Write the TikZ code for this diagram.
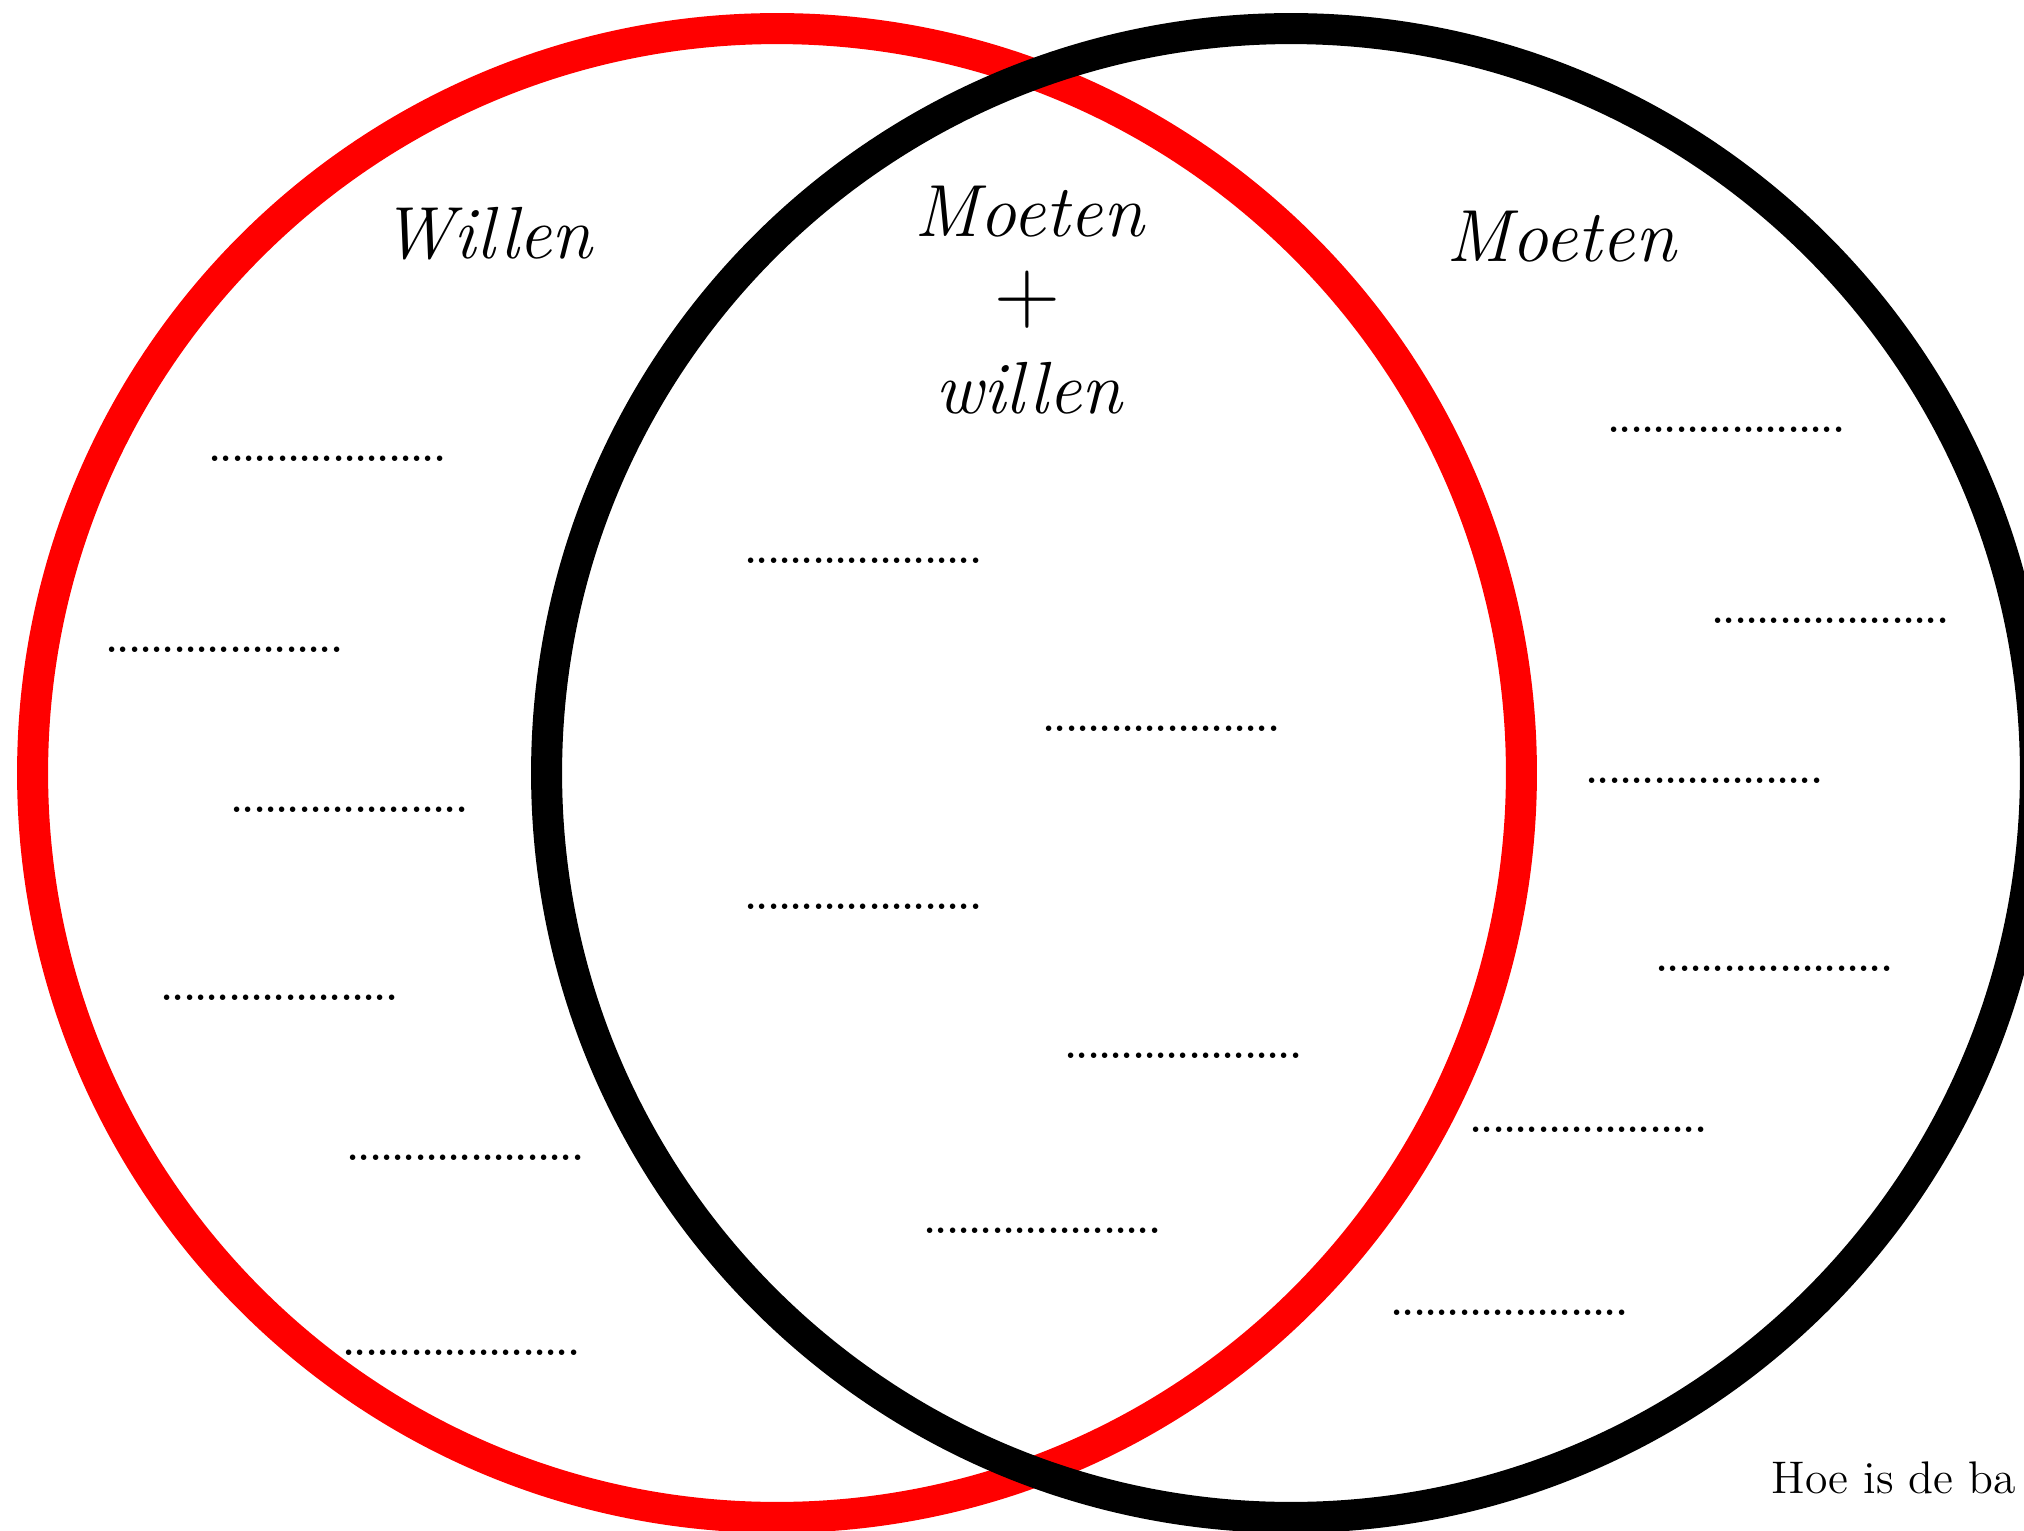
\documentclass[tikz,border=0pt]{standalone}
\usepackage{fontspec}
\usepackage{xcolor}
\usepackage{tikz}
\usetikzlibrary{positioning}

\newcommand{\blankline}{.....................}

\begin{document}
\begin{tikzpicture}[
  x=0.01cm, y=-0.01cm,
  ring/.style={draw=#1, line width=0.31cm},
  title/.style={font=\fontsize{21}{25}\selectfont\itshape, anchor=base, inner sep=0pt},
  blank/.style={font=\fontsize{10}{12}\selectfont\bfseries, anchor=base west, inner sep=0pt},
  note/.style={font=\fontsize{13}{16}\selectfont, anchor=base west, inner sep=0pt}
]
\useasboundingbox (0,0) rectangle (2024,1530);

% the two sets
\draw[ring=red] (777,773) circle[radius=7.44cm];
\draw[ring=black] (1291,773) circle[radius=7.44cm];

% headings
\node[title] (willen) at (487,258) {Willen};
\node[title] (moetenmid) at (1029,236) {Moeten};
\node[title, font=\fontsize{26}{30}\selectfont] (plus) at (1027,322) {+};
\node[title] (willenmid) at (1029,413) {willen};
\node[title] (moeten) at (1561,261) {Moeten};

% lines to fill in: willen
\node[blank] (w1) at (209,461) {\blankline};
\node[blank] (w2) at (106,652) {\blankline};
\node[blank] (w3) at (231,812) {\blankline};
\node[blank] (w4) at (161,1000) {\blankline};
\node[blank] (w5) at (347,1160) {\blankline};
\node[blank] (w6) at (343,1355) {\blankline};

% lines to fill in: both
\node[blank] (b1) at (745,563) {\blankline};
\node[blank] (b2) at (1043,731) {\blankline};
\node[blank] (b3) at (745,909) {\blankline};
\node[blank] (b4) at (1065,1058) {\blankline};
\node[blank] (b5) at (924,1233) {\blankline};

% lines to fill in: moeten
\node[blank] (m1) at (1608,432) {\blankline};
\node[blank] (m2) at (1712,623) {\blankline};
\node[blank] (m3) at (1586,783) {\blankline};
\node[blank] (m4) at (1656,971) {\blankline};
\node[blank] (m5) at (1470,1132) {\blankline};
\node[blank] (m6) at (1391,1315) {\blankline};

\node[note] (vraag) at (1771,1493) {Hoe is de ba};
\end{tikzpicture}
\end{document}
